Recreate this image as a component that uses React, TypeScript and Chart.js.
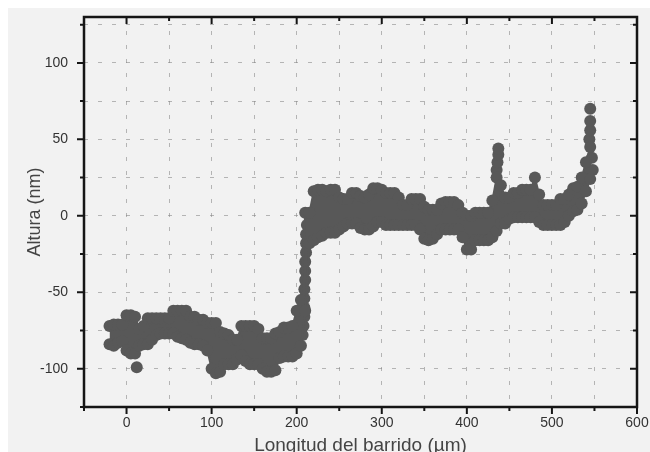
import React, { useEffect, useRef } from 'react';
import { Chart, registerables } from 'chart.js';

Chart.register(...registerables);

// Sample positions along the scan (µm)
const xPositions = [
  -20, -15, -10, -5, 0, 5, 10, 15, 20, 25, 30, 35, 40, 45, 50, 55, 60, 65, 70, 75, 80, 85, 90,
  95, 100, 105, 110, 115, 120, 125, 130, 135, 140, 145, 150, 155, 160, 165, 170, 175, 180, 185, 190, 195, 200, 205,
  210, 215, 220, 225, 230, 235, 240, 245, 250, 255, 260, 265, 270, 275, 280, 285, 290, 295, 300, 305, 310, 315, 320,
  325, 330, 335, 340, 345, 350, 355, 360, 365, 370, 375, 380, 385, 390, 395, 400, 405, 410, 415, 420, 425, 430, 435,
  440, 445, 450, 455, 460, 465, 470, 475, 480, 485, 490, 495, 500, 505, 510, 515, 520, 525, 530, 535, 540, 545,
];

// Upper envelope of the measured heights (nm)
const upperHeights = [
  -72, -71, -71, -71, -65, -65, -66, -74, -72, -67, -67, -67, -67, -67, -67, -62, -62, -62, -62, -66, -66, -68, -68,
  -70, -70, -70, -76, -77, -78, -81, -81, -72, -72, -72, -72, -74, -80, -80, -80, -77, -76, -73, -73, -72, -62, -55,
  2, 2, 16, 17, 17, 16, 17, 17, 12, 11, 11, 15, 15, 13, 12, 14, 18, 18, 17, 15, 15, 15, 12,
  7, 7, 11, 11, 11, 6, 4, 4, 4, 8, 9, 9, 9, 7, 2, 0, 0, 2, 2, 2, 2, 10, 25,
  20, 12, 12, 15, 15, 17, 17, 17, 25, 14, 7, 7, 7, 7, 11, 11, 14, 18, 19, 25, 35, 45,
];

// Lower envelope of the measured heights (nm)
const lowerHeights = [
  -84, -85, -83, -82, -88, -90, -90, -85, -84, -84, -81, -78, -77, -77, -77, -77, -79, -80, -81, -83, -84, -84, -85,
  -88, -100, -103, -102, -97, -97, -97, -94, -91, -95, -97, -97, -97, -100, -102, -102, -101, -93, -92, -92, -92, -90, -85,
  -62, -18, -16, -14, -13, -11, -11, -11, -9, -7, -5, -5, -5, -8, -9, -9, -7, -4, -4, -6, -6, -6, -6,
  -6, -6, -6, -6, -9, -15, -16, -15, -12, -9, -9, -9, -9, -9, -14, -22, -22, -16, -16, -16, -16, -14, -10,
  -5, -5, -2, -1, -1, -1, -1, -1, -1, -4, -6, -6, -6, -6, -6, -4, 0, 3, 4, 8, 16, 24,
];

// Isolated points: outlier, step edge, spikes
const extraX = [12, 207, 208, 209, 209, 209, 209, 210, 210, 210, 211, 211, 211, 212, 435, 436, 437, 437, 544, 545, 545, 545, 547, 548];
const extraY = [-99, -78, -72, -66, -60, -54, -48, -42, -36, -30, -24, -18, -12, -6, 30, 35, 40, 44, 50, 56, 62, 70, 38, 30];

const xGridValues = [-50, 0, 50, 100, 150, 200, 250, 300, 350, 400, 450, 500, 550, 600];
const yGridValues = [-125, -100, -75, -50, -25, 0, 25, 50, 75, 100, 125];
const xTickLabels = [0, 100, 200, 300, 400, 500, 600];
const yTickLabels = [-100, -50, 0, 50, 100];

const DOT = '#585858';
const FONT = "'Liberation Sans', Arial, sans-serif";

const framePlugin = {
  id: 'frame',
  afterDatasetsDraw(chart: any) {
    const { ctx, chartArea, scales } = chart;
    const { left, right, top, bottom } = chartArea;
    ctx.save();
    ctx.strokeStyle = '#151515';
    ctx.lineWidth = 2;
    ctx.beginPath();
    xGridValues.forEach((v) => {
      const px = scales.x.getPixelForValue(v);
      const len = xTickLabels.includes(v) ? 7 : 4;
      ctx.moveTo(px, bottom);
      ctx.lineTo(px, bottom + len);
      ctx.moveTo(px, top);
      ctx.lineTo(px, top + len);
    });
    yGridValues.forEach((v) => {
      const py = scales.y.getPixelForValue(v);
      const len = yTickLabels.includes(v) ? 7 : 4;
      ctx.moveTo(left, py);
      ctx.lineTo(left - len, py);
      ctx.moveTo(right, py);
      ctx.lineTo(right - len, py);
    });
    ctx.stroke();
    ctx.lineWidth = 2.5;
    ctx.strokeRect(left, top, right - left, bottom - top);
    ctx.restore();
  },
};

export default function App() {
  const ref = useRef<HTMLCanvasElement>(null);

  useEffect(() => {
    if (!ref.current) return;
    const lowerData = xPositions.map((x, i) => ({ x, y: lowerHeights[i] }));
    const upperData = xPositions.map((x, i) => ({ x, y: upperHeights[i] }));
    const extraData = extraX.map((x, i) => ({ x, y: extraY[i] }));

    const pointStyle = {
      borderColor: DOT,
      backgroundColor: DOT,
      pointBackgroundColor: DOT,
      pointBorderColor: DOT,
      pointBorderWidth: 0,
      pointRadius: 6,
      borderWidth: 2,
      tension: 0,
    };

    const gridColor = 'rgba(130,130,130,0.55)';

    const chart = new Chart(ref.current, {
      type: 'line',
      data: {
        datasets: [
          { ...pointStyle, data: lowerData, fill: false },
          { ...pointStyle, data: upperData, fill: '-1' },
          { ...pointStyle, data: extraData, showLine: false, fill: false },
        ],
      },
      options: {
        animation: false,
        responsive: false,
        maintainAspectRatio: false,
        events: [],
        layout: { autoPadding: false, padding: { top: 9, right: 13, left: 0, bottom: 0 } },
        plugins: {
          legend: { display: false },
          tooltip: { enabled: false },
        },
        scales: {
          x: {
            type: 'linear',
            min: -50,
            max: 600,
            afterBuildTicks: (s: any) => {
              s.ticks = xGridValues.map((v) => ({ value: v }));
            },
            afterFit: (s: any) => {
              s.height = 45;
              s.paddingLeft = 0;
              s.paddingRight = 0;
            },
            grid: { color: gridColor, lineWidth: 1, drawTicks: false },
            border: { display: false, dash: [4, 10] },
            ticks: {
              autoSkip: false,
              maxRotation: 0,
              padding: 8,
              color: '#333',
              font: { family: FONT, size: 14 },
              callback: (v: any) => (xTickLabels.includes(Number(v)) ? String(v) : ''),
            },
            title: {
              display: true,
              text: 'Longitud del barrido (µm)',
              color: '#444',
              font: { family: FONT, size: 19, lineHeight: 0.6 },
              padding: { top: 0, bottom: 1 },
            },
          },
          y: {
            type: 'linear',
            min: -125,
            max: 130,
            afterBuildTicks: (s: any) => {
              s.ticks = yGridValues.map((v) => ({ value: v }));
            },
            afterFit: (s: any) => {
              s.width = 76;
              s.paddingTop = 0;
              s.paddingBottom = 0;
            },
            grid: { color: gridColor, lineWidth: 1, drawTicks: false },
            border: { display: false, dash: [4, 10] },
            ticks: {
              autoSkip: false,
              padding: 16,
              color: '#333',
              font: { family: FONT, size: 14 },
              callback: (v: any) => (yTickLabels.includes(Number(v)) ? String(v) : ''),
            },
            title: {
              display: true,
              text: 'Altura (nm)',
              color: '#444',
              font: { family: FONT, size: 18 },
              padding: { top: 16, bottom: 0 },
            },
          },
        },
      },
      plugins: [framePlugin],
    } as any);

    return () => chart.destroy();
  }, []);

  return (
    <div
      style={{
        position: 'fixed',
        left: 8,
        top: 8,
        width: 642,
        height: 444,
        background: '#f2f2f2',
        overflow: 'hidden',
      }}
    >
      <canvas ref={ref} width={642} height={444} style={{ display: 'block' }} />
    </div>
  );
}
